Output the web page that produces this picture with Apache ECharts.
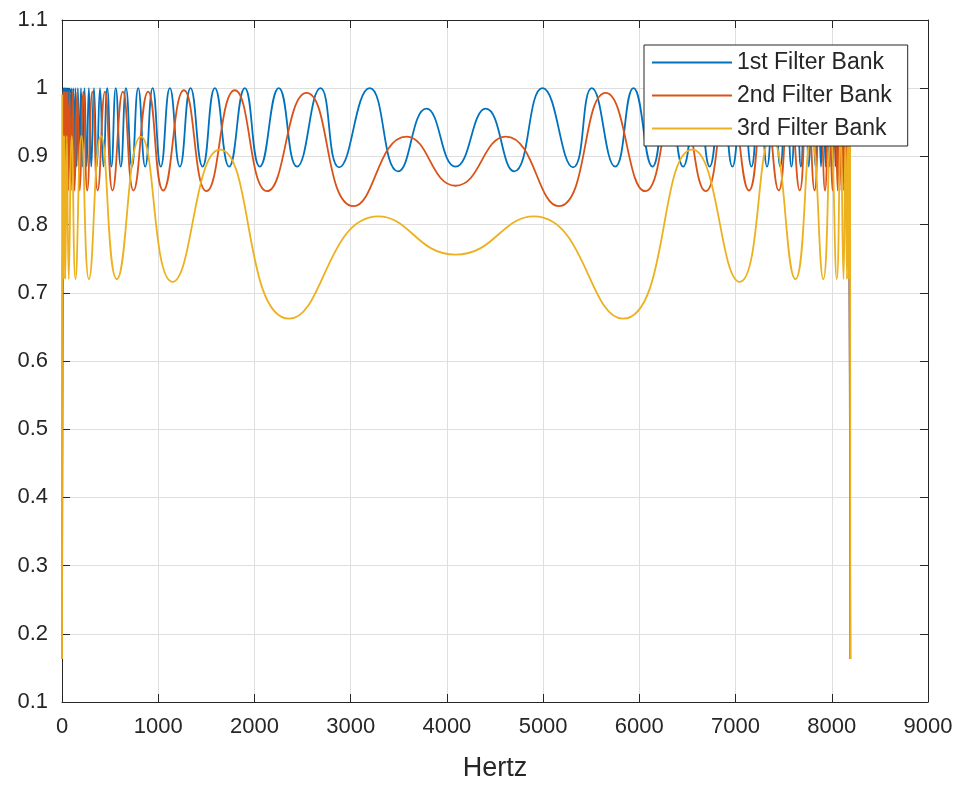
<!DOCTYPE html>
<html>
<head>
<meta charset="utf-8">
<script src="https://cdn.jsdelivr.net/npm/echarts@6/dist/echarts.min.js"></script>
<style>
html,body{margin:0;padding:0;background:#fff;}
#chart{width:961px;height:787px;}
</style>
</head>
<body>
<div id="chart"></div>
<script>
// Tick labels
const xTicks = [0, 1000, 2000, 3000, 4000, 5000, 6000, 7000, 8000, 9000];
const yTicks = [0.1, 0.2, 0.3, 0.4, 0.5, 0.6, 0.7, 0.8, 0.9, 1, 1.1];
const seriesNames = ['1st Filter Bank', '2nd Filter Bank', '3rd Filter Bank'];

// [Hz, magnitude] read at peaks / troughs of each curve
const bank1 = [
  [0,0.163],
  [15,1.0],[18,0.885],[20,1.0],[22,0.885],[24,1.0],[27,0.885],[29,1.0],[32,0.885],[35,1.0],[38,0.885],
  [41,1.0],[45,0.885],[49,1.0],[53,0.885],[58,1.0],[64,0.885],[69,1.0],[76,0.885],[82,1.0],[90,0.885],
  [98,1.0],[107,0.885],[117,1.0],[128,0.885],[139,1.0],[152,0.885],[165,1.0],[181,0.885],[197,1.0],[215,0.885],
  [234,1.0],[256,0.885],[279,1.0],[304,0.885],[332,1.0],[362,0.885],[395,1.0],[431,0.885],[470,1.0],[513,0.885],
  [559,1.0],[611,0.885],[665,1.0],[727,0.885],[792,1.0],[865,0.885],[942,1.0],[1027,0.885],[1121,1.0],[1225,0.885],
  [1336,1.0],[1461,0.885],[1589,1.0],[1737,0.885],[1900,1.0],[2056,0.885],[2253,1.0],[2443,0.885],[2686,1.0],[2880,0.884],
  [3198,1.0],[3493,0.878],[3787,0.97],[4090,0.885],[4405,0.97],[4699,0.878],[4994,1.0],
  [5312,0.884],[5506,1.0],[5749,0.885],[5939,1.0],[6136,0.885],[6292,1.0],[6455,0.885],[6603,1.0],[6731,0.885],
  [6856,1.0],[6967,0.885],[7071,1.0],[7165,0.885],[7250,1.0],[7327,0.885],[7400,1.0],[7465,0.885],[7527,1.0],[7581,0.885],
  [7633,1.0],[7679,0.885],[7722,1.0],[7761,0.885],[7797,1.0],[7830,0.885],[7860,1.0],[7888,0.885],[7913,1.0],[7936,0.885],
  [7958,1.0],[7977,0.885],[7995,1.0],[8011,0.885],[8027,1.0],[8040,0.885],[8053,1.0],[8064,0.885],[8075,1.0],[8085,0.885],
  [8094,1.0],[8102,0.885],[8110,1.0],[8116,0.885],[8123,1.0],[8128,0.885],[8134,1.0],[8139,0.885],[8143,1.0],[8147,0.885],
  [8151,1.0],[8154,0.885],[8157,1.0],[8160,0.885],[8163,1.0],[8165,0.885],[8168,1.0],[8170,0.885],[8172,1.0],[8174,0.885],
  [8177,1.0],
  [8192,0.163]
];

const bank2 = [
  [0,0.163],
  [14,0.995],[16,0.85],[20,0.995],[23,0.85],[28,0.995],[33,0.85],[40,0.995],[47,0.85],[56,0.995],[66,0.85],
  [79,0.995],[93,0.85],[112,0.995],[131,0.85],[158,0.995],[185,0.85],[223,0.995],[262,0.85],[316,0.995],[371,0.85],
  [447,0.995],[525,0.85],[633,0.995],[743,0.85],[895,0.995],[1052,0.85],[1267,0.997],[1502,0.849],[1796,0.997],[2132,0.849],
  [2541,0.993],[3030,0.827],[3580,0.929],[4090,0.857],[4612,0.929],[5162,0.827],[5651,0.993],
  [6060,0.849],[6396,0.997],[6690,0.849],[6925,0.997],[7140,0.85],[7297,0.995],[7449,0.85],[7559,0.995],[7667,0.85],
  [7745,0.995],[7821,0.85],[7876,0.995],[7930,0.85],[7969,0.995],[8007,0.85],[8034,0.995],[8061,0.85],[8080,0.995],[8099,0.85],
  [8113,0.995],[8126,0.85],[8136,0.995],[8145,0.85],[8152,0.995],[8159,0.85],[8164,0.995],[8169,0.85],[8172,0.995],[8176,0.85],
  [8178,0.995],
  [8192,0.163]
];

const bank3 = [
  [0,0.163],
  [2,0.99],[5,0.72],[7,0.93],[9,0.72],[13,0.93],[18,0.72],[25,0.93],[35,0.72],[50,0.93],[70,0.72],[101,0.93],[140,0.72],
  [202,0.93],[280,0.72],[405,0.93],[570,0.72],[820,0.929],[1149,0.716],[1640,0.91],[2361,0.662],[3285,0.812],
  [4090,0.756],
  [4907,0.812],[5831,0.662],[6552,0.91],[7043,0.716],[7372,0.929],[7622,0.72],[7787,0.93],[7912,0.72],[7990,0.93],[8052,0.72],
  [8091,0.93],[8122,0.72],[8142,0.93],[8157,0.72],[8167,0.93],[8174,0.72],[8179,0.93],[8183,0.72],[8185,0.93],[8187,0.72],
  [8190,0.99],
  [8192,0.163]
];

const colors = ['#0072BD', '#D95319', '#EDB120'];
const FONT = '"Liberation Sans", Arial, Helvetica, sans-serif';
const TXT = '#262626';

const chart = echarts.init(document.getElementById('chart'), null, {renderer: 'canvas'});

function mkSeries(name, data, color) {
  return {
    name: name, type: 'line', data: data,
    xAxisIndex: 0, yAxisIndex: 0,
    smooth: true, symbol: 'none', showSymbol: false,
    lineStyle: {width: 1.8, color: color},
    itemStyle: {color: color},
    emphasis: {disabled: true},
    animation: false
  };
}

const option = {
  animation: false,
  backgroundColor: '#ffffff',
  grid: {left: 62, right: 33, top: 20, bottom: 82, containLabel: false},
  xAxis: [{
    type: 'value', min: xTicks[0], max: xTicks[xTicks.length-1], interval: 1000,
    position: 'bottom',
    name: 'Hertz', nameLocation: 'middle', nameGap: 53,
    nameTextStyle: {fontFamily: FONT, fontSize: 27, color: TXT},
    axisLine: {show: true, onZero: false, lineStyle: {color: TXT, width: 1}},
    axisTick: {show: true, inside: true, length: 8, lineStyle: {color: TXT}},
    axisLabel: {fontFamily: FONT, fontSize: 22, color: TXT, margin: 14,
      formatter: function (v) { return String(v); }},
    splitLine: {show: true, lineStyle: {color: '#dfdfdf', width: 1}}
  }, {
    type: 'value', min: xTicks[0], max: xTicks[xTicks.length-1], interval: 1000,
    position: 'top',
    axisLine: {show: true, onZero: false, lineStyle: {color: TXT, width: 1}},
    axisTick: {show: true, inside: true, length: 8, lineStyle: {color: TXT}},
    axisLabel: {show: false},
    splitLine: {show: false}
  }],
  yAxis: [{
    type: 'value', min: yTicks[0], max: yTicks[yTicks.length-1], interval: 0.1,
    position: 'left',
    axisLine: {show: true, onZero: false, lineStyle: {color: TXT, width: 1}},
    axisTick: {show: true, inside: true, length: 8, lineStyle: {color: TXT}},
    axisLabel: {fontFamily: FONT, fontSize: 22, color: TXT, margin: 14,
      formatter: function (v) { return String(+v.toFixed(1)); }},
    splitLine: {show: true, lineStyle: {color: '#dfdfdf', width: 1}}
  }, {
    type: 'value', min: yTicks[0], max: yTicks[yTicks.length-1], interval: 0.1,
    position: 'right',
    axisLine: {show: true, onZero: false, lineStyle: {color: TXT, width: 1}},
    axisTick: {show: true, inside: true, length: 8, lineStyle: {color: TXT}},
    axisLabel: {show: false},
    splitLine: {show: false}
  }],
  legend: {
    show: true, orient: 'vertical', left: 644, top: 45,
    padding: [6, 16, 6, 8], itemGap: 10, itemWidth: 80, itemHeight: 2,
    icon: 'rect',
    backgroundColor: '#ffffff', borderColor: TXT, borderWidth: 1,
    textStyle: {fontFamily: FONT, fontSize: 23, color: TXT},
    data: seriesNames
  },
  series: [
    mkSeries(seriesNames[0], bank1, colors[0]),
    mkSeries(seriesNames[1], bank2, colors[1]),
    mkSeries(seriesNames[2], bank3, colors[2])
  ]
};
chart.setOption(option);
</script>
</body>
</html>
